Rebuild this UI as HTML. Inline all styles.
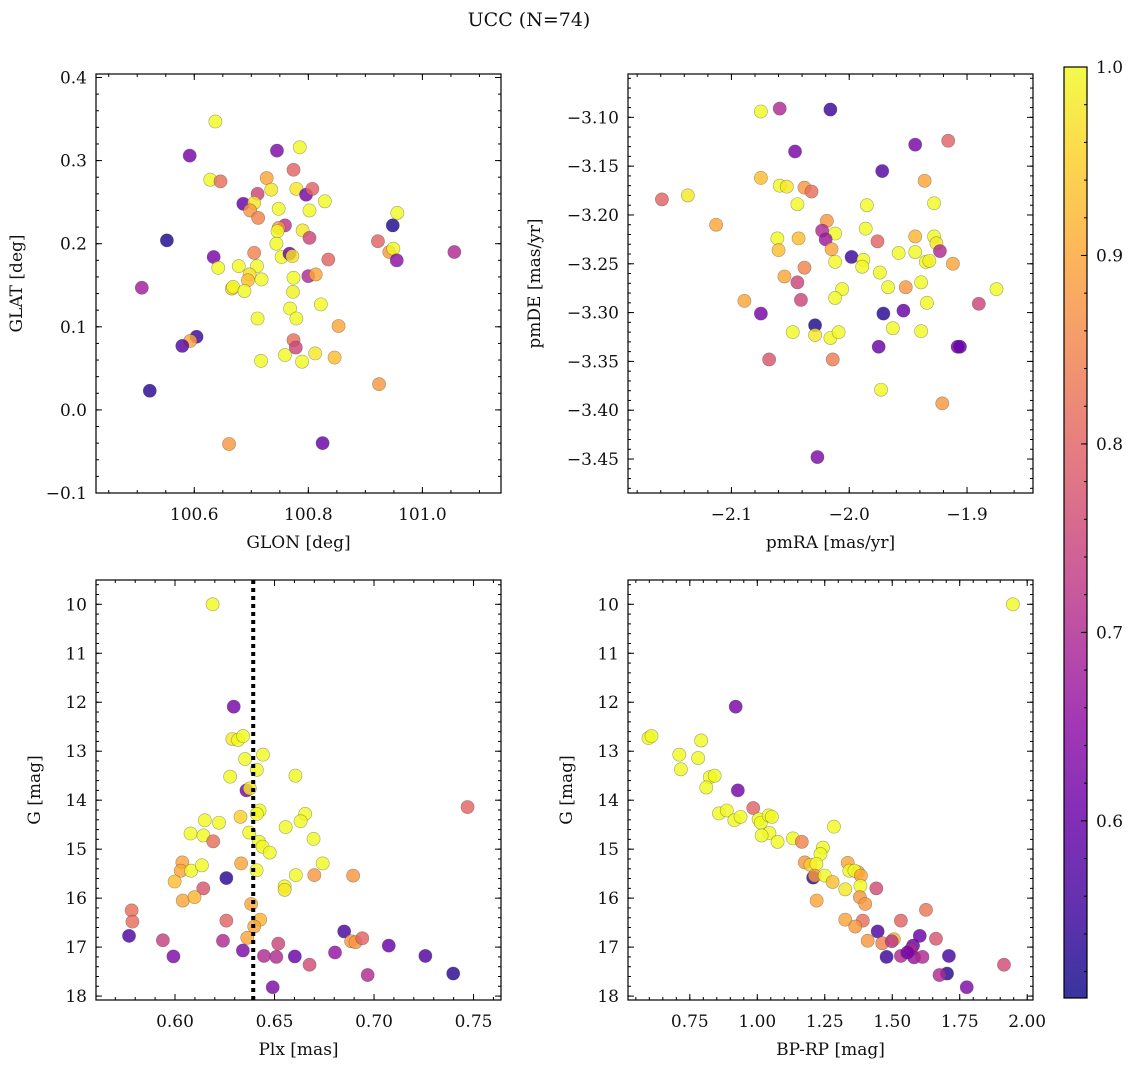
<!DOCTYPE html>
<html><head><meta charset="utf-8">
<style>
html,body{margin:0;padding:0;background:#fff;}
svg{display:block;font-family:"DejaVu Serif","Liberation Serif",serif;}
</style></head>
<body>
<svg id="fig" width="1136" height="1067" viewBox="0 0 1136 1067" xmlns="http://www.w3.org/2000/svg">
<text x="529" y="26" font-size="19" text-anchor="middle" fill="#111">UCC (N=74)</text>
</svg>
<script>
// ---- Panel 1: GLON vs GLAT ----
const glon = [100.637,100.592,100.745,100.785,100.774,100.628,100.646,100.727,100.711,100.735,100.779,100.796,100.807,100.829,100.686,100.705,100.698,100.712,100.748,100.802,100.759,100.748,100.746,100.79,100.802,100.744,100.552,100.634,100.642,100.705,100.753,100.767,100.772,100.835,100.678,100.71,100.697,100.694,100.718,100.8,100.813,100.774,100.666,100.668,100.688,100.773,100.508,100.822,100.768,100.779,100.711,100.853,100.604,100.593,100.579,100.774,100.778,100.759,100.812,100.717,100.789,100.846,100.948,100.956,100.922,100.942,100.949,100.955,101.056,100.924,100.522,100.661,100.825];
const glat = [0.347,0.306,0.312,0.316,0.289,0.277,0.275,0.279,0.26,0.265,0.266,0.259,0.266,0.251,0.248,0.249,0.24,0.231,0.242,0.24,0.222,0.219,0.215,0.216,0.207,0.2,0.204,0.184,0.171,0.189,0.184,0.188,0.185,0.181,0.173,0.173,0.163,0.156,0.157,0.161,0.163,0.159,0.146,0.148,0.143,0.142,0.147,0.127,0.122,0.11,0.11,0.101,0.088,0.083,0.077,0.084,0.075,0.066,0.068,0.059,0.058,0.063,0.222,0.237,0.203,0.19,0.194,0.18,0.19,0.031,0.023,-0.041,-0.04];
const prob1 = [1.0,0.62,0.63,1.0,0.8,1.0,0.82,0.9,0.75,0.98,0.98,0.62,0.8,1.0,0.6,0.98,0.88,0.85,1.0,1.0,0.72,0.88,1.0,0.98,0.75,1.0,0.52,0.62,1.0,0.85,1.0,0.6,0.97,0.8,1.0,1.0,0.97,0.93,1.0,0.7,0.9,1.0,0.95,1.0,1.0,0.99,0.68,1.0,1.0,1.0,1.0,0.9,0.55,0.9,0.58,0.82,0.75,1.0,0.98,1.0,1.0,0.93,0.52,1.0,0.8,0.88,1.0,0.65,0.7,0.88,0.53,0.88,0.6];
// ---- Panel 2: pmRA vs pmDE ----
const pmra = [-2.075,-2.059,-2.016,-2.046,-1.944,-1.916,-1.972,-2.075,-2.059,-2.053,-2.038,-2.032,-1.936,-2.159,-2.137,-2.044,-1.985,-1.928,-2.113,-2.019,-2.023,-2.012,-2.02,-2.061,-2.043,-1.986,-1.976,-1.944,-1.928,-1.926,-1.923,-2.06,-2.015,-1.998,-1.988,-2.012,-1.989,-1.958,-1.944,-1.935,-1.932,-1.912,-1.974,-2.038,-2.055,-2.044,-2.006,-2.012,-1.967,-1.952,-1.939,-1.875,-2.089,-2.041,-1.934,-1.89,-2.075,-1.971,-1.954,-2.029,-2.048,-2.029,-2.016,-2.009,-1.963,-1.939,-1.975,-1.908,-2.068,-2.014,-1.973,-1.921,-2.027,-1.906];
const pmde = [-3.094,-3.091,-3.092,-3.135,-3.128,-3.124,-3.155,-3.162,-3.17,-3.171,-3.172,-3.176,-3.165,-3.184,-3.18,-3.189,-3.19,-3.188,-3.21,-3.206,-3.216,-3.219,-3.225,-3.224,-3.224,-3.214,-3.227,-3.222,-3.222,-3.229,-3.237,-3.236,-3.235,-3.243,-3.246,-3.248,-3.253,-3.239,-3.238,-3.248,-3.247,-3.25,-3.259,-3.254,-3.263,-3.269,-3.276,-3.285,-3.274,-3.274,-3.269,-3.276,-3.288,-3.287,-3.29,-3.291,-3.301,-3.301,-3.298,-3.313,-3.32,-3.323,-3.326,-3.32,-3.316,-3.319,-3.335,-3.335,-3.348,-3.348,-3.379,-3.393,-3.448,-3.335];
const prob2 = [1.0,0.7,0.55,0.62,0.62,0.8,0.58,0.93,1.0,0.98,0.88,0.82,0.9,0.8,0.98,1.0,1.0,1.0,0.9,0.88,0.7,1.0,0.67,1.0,0.93,1.0,0.8,0.92,1.0,0.98,0.7,0.93,0.9,0.55,1.0,1.0,1.0,1.0,1.0,1.0,0.99,0.9,1.0,0.85,0.9,0.75,1.0,1.0,1.0,0.88,1.0,1.0,0.9,0.75,1.0,0.75,0.62,0.53,0.6,0.52,1.0,0.98,1.0,1.0,1.0,1.0,0.6,0.62,0.78,0.84,1.0,0.88,0.63,0.6];
// ---- Panel 3: Plx vs G ----
const plx = [0.6189,0.6295,0.6288,0.6317,0.6342,0.6352,0.6442,0.6411,0.6277,0.6605,0.6359,0.6376,0.6425,0.6411,0.6329,0.6654,0.6631,0.747,0.615,0.6221,0.6078,0.6143,0.6192,0.6373,0.6422,0.644,0.6476,0.6556,0.6696,0.6037,0.6029,0.6081,0.6135,0.5998,0.6332,0.641,0.6742,0.6607,0.67,0.6895,0.6258,0.6142,0.6551,0.6551,0.6039,0.6098,0.6383,0.5782,0.5786,0.6258,0.6428,0.6398,0.6363,0.5769,0.5939,0.6241,0.5992,0.6341,0.6519,0.6447,0.6509,0.6602,0.6676,0.6491,0.685,0.6885,0.6907,0.6941,0.6804,0.7074,0.6968,0.7258,0.7398];
const gmag3 = [10.0,12.09,12.75,12.77,12.69,13.16,13.07,13.38,13.52,13.5,13.8,13.76,14.21,14.28,14.34,14.28,14.43,14.14,14.41,14.46,14.68,14.72,14.84,14.66,14.85,14.95,15.07,14.55,14.79,15.27,15.44,15.44,15.33,15.66,15.29,15.43,15.29,15.53,15.53,15.54,15.59,15.8,15.76,15.83,16.05,15.98,16.12,16.25,16.48,16.46,16.44,16.58,16.81,16.77,16.86,16.87,17.19,17.07,16.93,17.18,17.2,17.19,17.36,17.82,16.68,16.88,16.9,16.82,17.11,16.97,17.57,17.18,17.54];
const prob3 = [1.0,0.62,0.98,1.0,1.0,1.0,1.0,1.0,1.0,1.0,0.62,0.98,1.0,1.0,0.95,1.0,1.0,0.8,1.0,1.0,1.0,1.0,0.82,1.0,1.0,1.0,1.0,1.0,1.0,0.9,0.9,1.0,1.0,0.93,0.9,1.0,1.0,1.0,0.88,0.88,0.53,0.78,1.0,0.98,0.9,0.92,0.9,0.82,0.82,0.8,0.92,0.9,0.9,0.57,0.74,0.7,0.63,0.63,0.75,0.7,0.7,0.6,0.76,0.63,0.56,0.88,0.88,0.8,0.66,0.6,0.7,0.57,0.53];
const plxMedian = [0.6393];
// ---- Panel 4: BP-RP vs G ----
const bprp = [1.947,0.92,0.597,0.608,0.792,0.711,0.781,0.717,0.824,0.842,0.811,0.928,0.985,0.858,0.887,0.915,0.938,1.005,1.013,1.042,1.054,1.045,1.016,1.075,1.284,1.132,1.165,1.243,1.234,1.176,1.197,1.219,1.207,1.213,1.25,1.279,1.335,1.341,1.373,1.36,1.384,1.382,1.326,1.441,1.38,1.4,1.22,1.625,1.326,1.391,1.363,1.532,1.446,1.409,1.463,1.506,1.498,1.602,1.662,1.577,1.569,1.479,1.532,1.581,1.612,1.71,1.703,1.675,1.776,1.914,1.556];
const gmag4 = [10.0,12.09,12.73,12.69,12.78,13.07,13.14,13.37,13.53,13.5,13.74,13.8,14.16,14.27,14.21,14.41,14.34,14.39,14.46,14.31,14.34,14.67,14.72,14.85,14.54,14.78,14.85,14.97,15.1,15.27,15.32,15.3,15.58,15.54,15.54,15.67,15.28,15.44,15.47,15.44,15.54,15.75,15.82,15.8,15.98,16.12,16.05,16.24,16.44,16.46,16.58,16.46,16.68,16.87,16.92,16.84,16.88,16.77,16.83,16.97,17.05,17.2,17.18,17.21,17.2,17.18,17.54,17.57,17.82,17.36,17.11];
const prob4 = [1.0,0.62,1.0,1.0,1.0,1.0,1.0,1.0,1.0,1.0,1.0,0.62,0.8,1.0,1.0,1.0,1.0,1.0,1.0,1.0,1.0,1.0,1.0,1.0,1.0,1.0,0.85,1.0,1.0,0.88,0.95,1.0,0.53,0.88,1.0,0.93,0.9,1.0,0.9,1.0,0.9,1.0,0.98,0.76,0.88,0.88,0.9,0.83,0.9,0.82,0.88,0.8,0.57,0.88,0.85,0.92,0.72,0.6,0.78,0.6,0.7,0.55,0.7,0.66,0.7,0.56,0.53,0.7,0.63,0.76,0.62];
// ---- Colorbar ----
const cbarTicks = [0.6,0.7,0.8,0.9,1.0];
const vmin = 0.506, vmax = 1.0;

const NS = "http://www.w3.org/2000/svg";
const svg = document.getElementById('fig');
function mk(tag, attrs, parent){
  const e = document.createElementNS(NS, tag);
  for (const k in attrs) e.setAttribute(k, attrs[k]);
  (parent||svg).appendChild(e);
  return e;
}
const plasmaStops = [[13,8,135],[65,4,157],[106,0,168],[143,13,164],[177,42,144],[204,71,120],[225,100,98],[242,132,75],[252,166,54],[252,206,37],[240,249,33]];
function plasma(t){
  t = Math.max(0, Math.min(1, t));
  const f = t*10, i = Math.min(9, Math.floor(f)), r = f - i;
  const a = plasmaStops[i], b = plasmaStops[i+1];
  return 'rgb(' + [0,1,2].map(k => Math.round(a[k]+(b[k]-a[k])*r)).join(',') + ')';
}
function colorOf(p){ return plasma((p - vmin)/(vmax - vmin)); }
function linScale(d0,d1,r0,r1){ return v => r0 + (v-d0)/(d1-d0)*(r1-r0); }
function fmt(v, dec){ const s = v.toFixed(dec); return s.replace('-', '\u2212'); }

function makePanel(cfg){
  const g = mk('g', {});
  
  
  const {x0,x1,y0,y1} = cfg;
  const sx = linScale(cfg.xd[0], cfg.xd[1], x0, x1);
  const sy = linScale(cfg.yd[0], cfg.yd[1], y1, y0);
  function ticks(dom, step){ const out=[]; const lo=Math.min(dom[0],dom[1]), hi=Math.max(dom[0],dom[1]);
    let s = Math.ceil(lo/step - 1e-6); for(let v=s*step; v<=hi+1e-9; v=(++s)*step) out.push(Math.round(v*1e6)/1e6); return out; }
  const tg = mk('g', {stroke:'#000','stroke-width':1}, g);
  
  
  ticks(cfg.xd, cfg.xminor).forEach(v => { const x=sx(v);
    mk('line',{x1:x,x2:x,y1:y1,y2:y1-3},tg); mk('line',{x1:x,x2:x,y1:y0,y2:y0+3},tg); });
  ticks(cfg.yd, cfg.yminor).forEach(v => { const y=sy(v);
    mk('line',{x1:x0,x2:x0+3,y1:y,y2:y},tg); mk('line',{x1:x1,x2:x1-3,y1:y,y2:y},tg); });
  ticks(cfg.xd, cfg.xmajor).forEach(v => { const x=sx(v);
    mk('line',{x1:x,x2:x,y1:y1,y2:y1-6},tg); mk('line',{x1:x,x2:x,y1:y0,y2:y0+6},tg);
    const t = mk('text',{x:x,y:y1+27,'font-size':17,'text-anchor':'middle',fill:'#111',stroke:'none'},g);
    
    
    t.textContent = fmt(v, cfg.xdec); });
  ticks(cfg.yd, cfg.ymajor).forEach(v => { const y=sy(v);
    mk('line',{x1:x0,x2:x0+6,y1:y,y2:y},tg); mk('line',{x1:x1,x2:x1-6,y1:y,y2:y},tg);
    const t = mk('text',{x:x0-9,y:y+6,'font-size':17,'text-anchor':'end',fill:'#111',stroke:'none'},g);
    
    
    t.textContent = fmt(v, cfg.ydec); });
  const xl = mk('text',{x:(x0+x1)/2,y:y1+55,'font-size':17,'text-anchor':'middle',fill:'#111'},g);
  
  
  xl.textContent = cfg.xlabel;
  const yl = mk('text',{x:0,y:0,'font-size':17,'text-anchor':'middle',fill:'#111',transform:`translate(${x0-cfg.ylabOff},${(y0+y1)/2}) rotate(-90)`},g);
  
  
  yl.textContent = cfg.ylabel;
  const pg = mk('g', {}, g);
  
  
  cfg.xs.forEach((xv,i) => {
    const c = mk('circle',{cx:sx(xv),cy:sy(cfg.ys[i]),r:6.6,fill:colorOf(cfg.ps[i]),'fill-opacity':0.82,stroke:'rgba(60,60,60,0.45)','stroke-width':0.6},pg);
    
    
  });
  if (cfg.vline) cfg.vline.forEach(v => {
    const l = mk('line',{x1:sx(v),x2:sx(v),y1:y0,y2:y1,stroke:'#000','stroke-width':4,'stroke-dasharray':'4 4'},g);
    
    
  });
  const fr = mk('rect',{x:x0,y:y0,width:x1-x0,height:y1-y0,fill:'none',stroke:'#000','stroke-width':1.2},g);
  
  
}

makePanel({name:'glon-glat-panel',x0:96,x1:501,y0:74,y1:493,xd:[100.4277,101.1378],yd:[-0.1,0.4042],
  xmajor:0.2,xminor:0.05,ymajor:0.1,yminor:0.02,xdec:1,ydec:1,xlabel:'GLON [deg]',ylabel:'GLAT [deg]',ylabOff:74,xs:glon,ys:glat,ps:prob1});
makePanel({name:'pm-panel',x0:628,x1:1033,y0:74,y1:493,xd:[-2.1878,-1.844],yd:[-3.4848,-3.0556],
  xmajor:0.1,xminor:0.02,ymajor:0.05,yminor:0.01,xdec:1,ydec:2,xlabel:'pmRA [mas/yr]',ylabel:'pmDE [mas/yr]',ylabOff:88,xs:pmra,ys:pmde,ps:prob2});
makePanel({name:'plx-g-panel',x0:96,x1:501,y0:580,y1:1000,xd:[0.5603,0.7638],yd:[18.08,9.504],
  xmajor:0.05,xminor:0.01,ymajor:1,yminor:0.2,xdec:2,ydec:0,xlabel:'Plx [mas]',ylabel:'G [mag]',ylabOff:56,xs:plx,ys:gmag3,ps:prob3,vline:plxMedian});
makePanel({name:'cmd-panel',x0:628,x1:1033,y0:580,y1:1000,xd:[0.521,2.0215],yd:[18.08,9.504],
  xmajor:0.25,xminor:0.05,ymajor:1,yminor:0.2,xdec:2,ydec:0,xlabel:'BP-RP [mag]',ylabel:'G [mag]',ylabOff:56,xs:bprp,ys:gmag4,ps:prob4});

(function(){
  const cx0=1064, cx1=1087, cy0=67, cy1=998;
  const g = mk('g', {});
  
  
  const defs = mk('defs',{},g);
  const lg = mk('linearGradient',{id:'cbg',x1:0,y1:1,x2:0,y2:0},defs);
  for(let i=0;i<=20;i++){ mk('stop',{offset:(i/20),'stop-color':plasma(i/20),'stop-opacity':0.82},lg); }
  mk('rect',{x:cx0,y:cy0,width:cx1-cx0,height:cy1-cy0,fill:'url(#cbg)'},g);
  const sy = linScale(vmin, vmax, cy1, cy0);
  for(let v=0.52; v<=1.0001; v+=0.02){ const y=sy(v); mk('line',{x1:cx1,x2:cx1-3,y1:y,y2:y,stroke:'#000','stroke-width':1},g); }
  cbarTicks.forEach(v => { const y=sy(v);
    mk('line',{x1:cx1,x2:cx1-6,y1:y,y2:y,stroke:'#000','stroke-width':1},g);
    const t = mk('text',{x:cx1+9,y:y+6,'font-size':17,fill:'#111'},g);
    
    
    t.textContent = v.toFixed(1); });
  mk('rect',{x:cx0,y:cy0,width:cx1-cx0,height:cy1-cy0,fill:'none',stroke:'#000','stroke-width':1.2},g);
})();
</script>
</body></html>
